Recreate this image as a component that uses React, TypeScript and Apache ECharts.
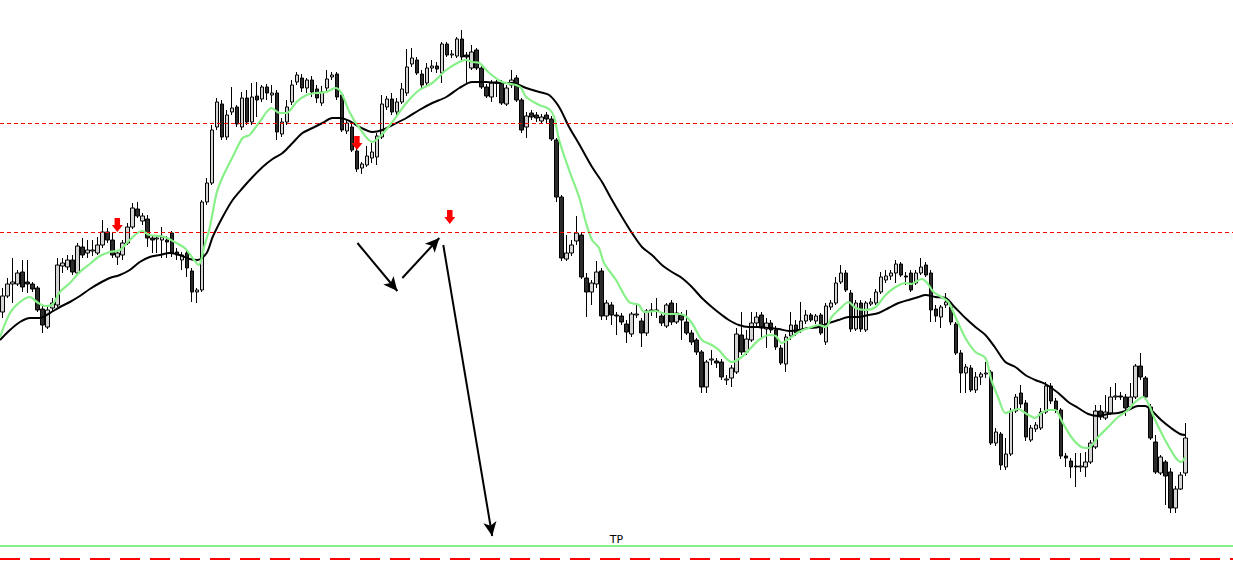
import { useEffect, useRef } from 'react'
import * as echarts from 'echarts'

// bars: [open, close, low, high]
const candles: number[][] = [
  [288, 304, 282, 312], [304, 316, 302, 322], [316, 318, 297, 342], [316, 327, 314, 330], [328, 313, 308, 340],
  [318, 316, 307, 340], [316, 311, 308, 318], [312, 290, 288, 314], [291, 275, 267, 294], [273, 290, 271, 295],
  [292, 297, 288, 302], [295, 335, 293, 342], [334, 337, 327, 342], [333, 340, 330, 345], [340, 328, 325, 345],
  [327, 354, 325, 357], [353, 345, 342, 362], [347, 350, 342, 360], [349, 350, 344, 360], [347, 355, 345, 363],
  [355, 368, 352, 380], [368, 360, 357, 372], [360, 345, 342, 367], [343, 347, 335, 350], [345, 357, 340, 360],
  [357, 373, 355, 377], [373, 392, 371, 397], [391, 384, 382, 398], [379, 384, 375, 387], [381, 362, 353, 385],
  [362, 360, 347, 364], [361, 362, 347, 364], [360, 363, 342, 373], [360, 358, 342, 364], [367, 347, 343, 369],
  [348, 345, 340, 352], [340, 345, 330, 348], [347, 332, 323, 350], [329, 308, 298, 332], [308, 310, 297, 312],
  [310, 398, 308, 400], [398, 417, 395, 422], [417, 470, 415, 475], [473, 498, 470, 502], [496, 463, 460, 500],
  [463, 485, 460, 490], [488, 492, 485, 513], [493, 476, 473, 495], [473, 502, 470, 508], [502, 478, 475, 510],
  [478, 503, 475, 517], [504, 500, 483, 518], [501, 513, 498, 515], [513, 507, 500, 516], [505, 507, 497, 515],
  [507, 468, 460, 510], [466, 478, 463, 482], [478, 493, 475, 500], [498, 515, 495, 520], [518, 525, 515, 528],
  [522, 512, 508, 526], [512, 520, 507, 522], [520, 508, 503, 524], [511, 502, 497, 515], [497, 508, 494, 514],
  [512, 521, 508, 530], [523, 525, 520, 528], [526, 503, 500, 528], [505, 470, 468, 508], [469, 477, 466, 480],
  [473, 450, 448, 476], [449, 431, 428, 451], [432, 436, 426, 438], [435, 444, 433, 454], [442, 448, 437, 457],
  [443, 464, 435, 467], [463, 496, 461, 505], [493, 501, 490, 504], [501, 488, 485, 507], [488, 498, 485, 502],
  [498, 511, 496, 517], [507, 533, 504, 551], [536, 542, 533, 552], [540, 527, 525, 543], [526, 515, 512, 530],
  [517, 532, 514, 537], [532, 534, 528, 540], [534, 531, 527, 538], [527, 556, 517, 558], [556, 545, 543, 558],
  [545, 546, 542, 550], [544, 561, 542, 563], [561, 543, 540, 570], [545, 543, 517, 548], [532, 548, 530, 555],
  [550, 532, 530, 552], [532, 513, 511, 534], [513, 504, 502, 516], [503, 517, 498, 520], [517, 518, 503, 520],
  [517, 497, 495, 520], [496, 512, 494, 515], [515, 520, 512, 530], [522, 500, 498, 525], [500, 470, 467, 502],
  [473, 484, 462, 488], [487, 483, 480, 490], [485, 482, 478, 488], [479, 483, 476, 486], [485, 481, 476, 488],
  [481, 461, 459, 484], [460, 403, 398, 462], [403, 342, 339, 405], [341, 347, 339, 365], [347, 355, 344, 360],
  [359, 367, 355, 384], [365, 323, 321, 368], [322, 308, 283, 327], [308, 317, 295, 320], [316, 328, 312, 339],
  [329, 284, 280, 332], [284, 297, 280, 300], [295, 285, 275, 298], [285, 284, 265, 288], [284, 278, 275, 287],
  [276, 268, 257, 280], [266, 286, 263, 288], [285, 286, 282, 295], [279, 267, 253, 282], [267, 289, 264, 291],
  [289, 290, 284, 297], [290, 289, 282, 302], [284, 277, 274, 287], [274, 295, 272, 297], [297, 278, 275, 300],
  [278, 287, 276, 297], [285, 280, 260, 288], [278, 267, 265, 290], [267, 258, 255, 270], [260, 248, 245, 262],
  [248, 213, 207, 250], [213, 238, 207, 240], [240, 241, 235, 250], [239, 237, 232, 242], [238, 223, 220, 241],
  [220, 221, 215, 225], [222, 232, 213, 235], [228, 266, 226, 272], [265, 248, 245, 288], [248, 261, 245, 270],
  [260, 277, 258, 288], [277, 283, 274, 288], [285, 272, 262, 288], [271, 277, 252, 282], [277, 270, 267, 280],
  [270, 253, 250, 274], [252, 237, 235, 255], [236, 263, 228, 266], [264, 275, 260, 288], [275, 267, 264, 280],
  [270, 279, 267, 298], [279, 285, 276, 290], [285, 280, 278, 287], [279, 284, 276, 286], [285, 267, 265, 287],
  [258, 294, 255, 297], [293, 297, 290, 300], [297, 317, 295, 323], [318, 327, 316, 335], [327, 310, 308, 330],
  [307, 271, 268, 310], [271, 297, 269, 300], [297, 271, 268, 300], [270, 297, 268, 299], [296, 298, 294, 302],
  [297, 308, 295, 311], [308, 323, 306, 328], [320, 324, 317, 330], [324, 327, 320, 330], [327, 336, 317, 340],
  [336, 325, 323, 338], [324, 323, 315, 328], [327, 310, 308, 330], [317, 327, 315, 330], [327, 333, 325, 342],
  [335, 325, 323, 338], [327, 290, 278, 330], [291, 284, 278, 295], [283, 293, 272, 295], [295, 298, 292, 307],
  [293, 278, 275, 297], [276, 247, 245, 278], [247, 227, 207, 250], [227, 233, 207, 236], [232, 210, 208, 235],
  [210, 223, 207, 228], [223, 226, 215, 228], [226, 227, 222, 238], [228, 157, 155, 230], [157, 168, 154, 172],
  [166, 135, 130, 168], [133, 146, 130, 162], [146, 189, 144, 192], [189, 203, 187, 206], [207, 196, 192, 215],
  [197, 163, 159, 200], [160, 172, 158, 175], [171, 175, 168, 178], [172, 188, 170, 192], [188, 214, 186, 218],
  [214, 199, 196, 217], [199, 190, 187, 202], [190, 144, 141, 192], [144, 142, 133, 147], [139, 133, 122, 142],
  [134, 133, 113, 147], [133, 134, 128, 147], [133, 138, 123, 148], [138, 157, 136, 160], [153, 189, 151, 195],
  [189, 183, 180, 195], [182, 188, 180, 205], [187, 203, 185, 213], [203, 204, 200, 217], [204, 203, 200, 208],
  [203, 192, 184, 206], [193, 203, 191, 217], [203, 234, 201, 236], [234, 223, 220, 247], [222, 203, 201, 224],
  [193, 162, 160, 196], [158, 128, 126, 165], [127, 143, 125, 145], [138, 124, 95, 140], [128, 92, 87, 132],
  [92, 111, 87, 114], [111, 125, 110, 128], [127, 162, 124, 177],
]

// chart slots (bars + empty space on the right)
const SLOTS = 247
const categories = Array.from({ length: SLOTS }, (_, i) => String(i + 1))

// moving averages, read as [bar, value]
const fastMa: number[][] = [
  [-0.5, 263], [1.5, 287], [3.5, 298], [5.5, 303], [6.9, 298], [8.5, 294], [9.9, 295], [11.5, 308], [13.5, 317],
  [15.5, 328], [17.5, 336], [19.5, 344], [21.5, 348], [23.5, 350], [25.5, 360], [27.9, 369], [29.5, 365],
  [32.5, 363], [34.5, 358], [36.5, 352], [38.1, 342], [39.3, 335], [40.5, 355], [41.5, 372], [42.9, 407],
  [44.1, 423], [46.1, 443], [48.1, 462], [49.5, 465], [51.5, 478], [53.9, 492], [55.5, 487], [56.9, 487],
  [58.9, 498], [60.9, 505], [62.9, 507], [64.9, 508], [66.7, 512], [67.9, 507], [69.5, 488], [71.5, 472],
  [74.1, 458], [75.9, 465], [78.1, 478], [80.9, 497], [83.5, 510], [86.1, 517], [88.9, 530], [91.5, 538],
  [92.9, 540], [94.1, 538], [95.5, 537], [97.5, 527], [100.1, 518], [102.9, 515], [103.9, 512], [104.9, 503],
  [107.5, 495], [109.5, 491], [110.5, 483], [111.5, 460], [113.5, 430], [115.5, 403], [116.9, 377], [118.1, 360],
  [119.5, 352], [120.5, 337], [122.9, 320], [125.5, 298], [127.5, 295], [128.5, 288], [130.9, 289], [132.9, 286],
  [134.9, 286], [136.5, 285], [138.1, 277], [140.1, 260], [142.1, 255], [143.5, 250], [144.9, 242], [146.1, 238],
  [148.1, 243], [150.1, 253], [151.5, 260], [153.5, 265], [154.9, 264], [156.1, 257], [157.5, 261], [159.5, 268],
  [161.5, 272], [163.5, 275], [164.9, 273], [166.1, 283], [167.5, 290], [169.5, 298], [170.9, 292], [172.9, 290],
  [174.9, 293], [176.9, 305], [178.9, 313], [180.9, 317], [182.1, 316], [184.1, 321], [185.1, 318], [186.5, 308],
  [188.1, 303], [189.5, 298], [190.9, 283], [192.9, 262], [194.9, 248], [196.9, 242], [198.1, 220], [199.5, 202],
  [200.9, 187], [202.1, 189], [203.5, 191], [204.9, 187], [206.9, 182], [208.1, 187], [209.5, 190], [210.9, 190],
  [212.1, 180], [214.1, 163], [216.1, 153], [217.5, 152], [219.5, 163], [221.5, 173], [223.5, 183], [225.5, 190],
  [226.9, 198], [228.5, 203], [229.5, 197], [230.9, 180], [232.9, 160], [234.9, 143], [236.1, 138], [236.9, 143],
]

const slowMa: number[][] = [
  [-0.5, 260], [1.5, 270], [3.5, 278], [5.5, 282], [7.5, 282], [9.5, 287], [11.5, 293], [13.5, 298], [15.5, 304],
  [17.5, 311], [19.5, 317], [21.5, 322], [23.5, 325], [25.5, 330], [27.5, 338], [29.5, 343], [31.5, 345],
  [33.5, 347], [35.5, 345], [37.5, 341], [39.1, 340], [40.9, 347], [42.1, 363], [44.1, 383], [46.1, 400],
  [48.1, 412], [50.1, 423], [52.1, 433], [54.1, 441], [56.1, 447], [58.1, 457], [60.1, 467], [62.1, 472],
  [64.1, 477], [66.1, 482], [67.7, 482], [69.5, 479], [71.5, 473], [74.1, 468], [76.1, 470], [78.1, 475],
  [80.9, 482], [83.5, 490], [86.1, 497], [88.9, 503], [91.5, 512], [94.1, 518], [96.9, 518], [99.5, 517],
  [102.1, 517], [104.9, 512], [107.5, 508], [109.5, 505], [111.5, 493], [113.5, 473], [115.5, 456], [118.1, 433],
  [120.1, 418], [122.1, 400], [124.1, 383], [126.1, 367], [128.1, 353], [130.1, 345], [132.1, 335], [134.1, 328],
  [136.1, 322], [138.1, 313], [140.1, 302], [142.1, 293], [144.1, 285], [145.5, 280], [147.5, 275], [149.5, 273],
  [151.5, 273], [153.5, 272], [155.5, 271], [157.5, 269], [159.5, 270], [161.5, 272], [163.5, 273], [165.5, 277],
  [167.5, 280], [169.5, 283], [171.5, 283], [173.5, 285], [175.5, 287], [177.5, 292], [179.5, 297], [181.5, 300],
  [183.5, 303], [184.9, 305], [186.9, 303], [188.9, 302], [190.9, 292], [192.9, 282], [194.9, 273], [196.9, 265],
  [198.9, 252], [200.9, 238], [202.9, 233], [204.9, 225], [206.9, 220], [208.9, 216], [211.5, 207], [213.5, 198],
  [215.5, 192], [217.5, 186], [219.5, 184], [221.5, 186], [223.5, 187], [225.5, 190], [227.5, 194], [228.9, 194],
  [230.1, 190], [232.1, 180], [234.1, 172], [235.9, 166], [236.9, 165],
]

// horizontal levels
const resistanceLevels = [477, 368]
const takeProfit = 54
const stopLevel = 41.5

// red sell signals [bar, value]
const sellSignals: number[][] = [[23, 375], [71, 457], [89.6, 383]]

// drawn arrows [fromBar, fromValue, toBar, toValue]
const trendArrows: number[][] = [
  [71.1, 357, 79.1, 309],
  [80.1, 322, 87.5, 362],
  [88.3, 355, 98.1, 64],
]

const downArrow = 'path://M3,0 L9,0 L9,7 L12,7 L6,14 L0,7 L3,7 Z'

export default function App() {
  const chartRef = useRef<HTMLDivElement>(null)

  useEffect(() => {
    if (!chartRef.current) return
    const chart = echarts.init(chartRef.current, undefined, { renderer: 'svg' })

    const option: echarts.EChartsOption = {
      animation: false,
      backgroundColor: '#ffffff',
      grid: { left: 0, right: 0, top: 0, bottom: 0 },
      xAxis: [
        {
          type: 'category',
          data: categories,
          boundaryGap: true,
          show: false,
        },
        {
          type: 'value',
          min: -0.5,
          max: SLOTS - 0.5,
          show: false,
        },
      ],
      yAxis: {
        type: 'value',
        min: 12,
        max: 600,
        show: false,
      },
      series: [
        {
          name: 'price',
          type: 'candlestick',
          data: candles,
          xAxisIndex: 0,
          yAxisIndex: 0,
          barWidth: 4,
          itemStyle: {
            color: '#d4d4d4',
            color0: '#2b2b2b',
            borderColor: '#000000',
            borderColor0: '#000000',
            borderWidth: 1,
          },
          markLine: {
            silent: true,
            symbol: ['none', 'none'],
            data: [
              ...resistanceLevels.map(v => ({
                yAxis: v,
                lineStyle: { color: '#ff0000', width: 1, type: [4, 3] as any },
                label: { show: false },
              })),
              {
                yAxis: takeProfit,
                lineStyle: { color: '#88f088', width: 2, type: 'solid' as const },
                label: {
                  show: true,
                  formatter: 'TP',
                  position: 'insideMiddleTop' as const,
                  color: '#000000',
                  fontSize: 11,
                  fontFamily: 'DejaVu Sans',
                  distance: 1,
                },
              },
              {
                yAxis: stopLevel,
                lineStyle: { color: '#ff0000', width: 2, type: [20, 10] as any },
                label: { show: false },
              },
            ],
          },
        },
        {
          name: 'slow',
          type: 'line',
          data: slowMa,
          xAxisIndex: 1,
          yAxisIndex: 0,
          showSymbol: false,
          smooth: 0.3,
          lineStyle: { color: '#000000', width: 2 },
        },
        {
          name: 'fast',
          type: 'line',
          data: fastMa,
          xAxisIndex: 1,
          yAxisIndex: 0,
          showSymbol: false,
          smooth: 0.3,
          lineStyle: { color: '#88f088', width: 2.2 },
          markPoint: {
            silent: true,
            symbol: downArrow,
            symbolSize: [11, 14],
            itemStyle: { color: '#ff0000' },
            label: { show: false },
            data: sellSignals.map(s => ({ coord: s })),
          },
          markLine: {
            silent: true,
            symbol: ['none', 'arrow'],
            symbolSize: [10, 14],
            lineStyle: { color: '#000000', width: 2, type: 'solid' },
            label: { show: false },
            data: trendArrows.map(a => [
              { coord: [a[0], a[1]] },
              { coord: [a[2], a[3]] },
            ]) as any,
          },
        },
      ],
    }

    chart.setOption(option)

    return () => {
      chart.dispose()
    }
  }, [])

  return (
    <div
      ref={chartRef}
      style={{ position: 'fixed', left: 0, top: 0, width: '1233px', height: '588px' }}
    />
  )
}
